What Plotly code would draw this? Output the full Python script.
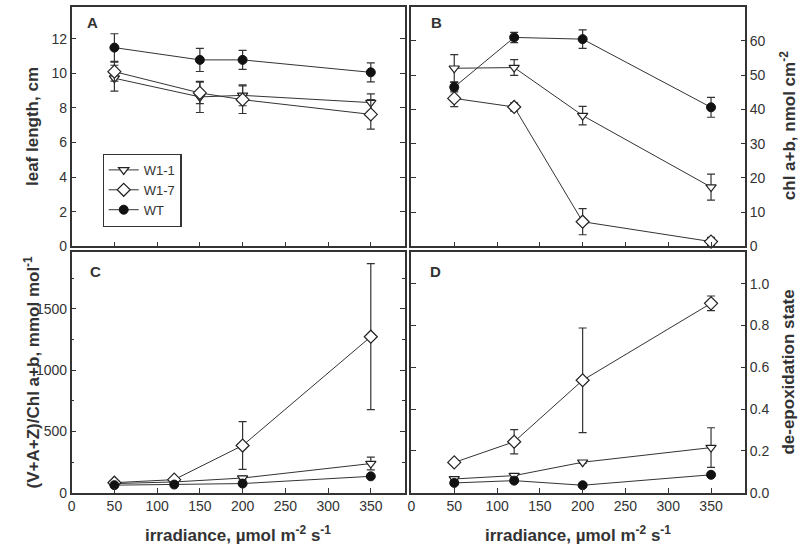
import plotly.graph_objects as go

# ---------------- data ----------------
series_names = ["W1-1", "W1-7", "WT"]
x_A = [50, 150, 200, 350]
x_BCD = [50, 120, 200, 350]

leaf_W11 = [9.72, 8.64, 8.73, 8.31]
leaf_W11_err = [0.75, 0.9, 0.6, 0.5]
leaf_W17 = [10.1, 8.87, 8.48, 7.63]
leaf_W17_err = [0.55, 0.62, 0.8, 0.85]
leaf_WT = [11.49, 10.78, 10.78, 10.06]
leaf_WT_err = [0.8, 0.67, 0.55, 0.55]

chl_W11 = [52.0, 52.2, 38.2, 17.3]
chl_W11_err = [4.0, 2.3, 2.7, 3.8]
chl_W17 = [43.2, 40.7, 7.2, 1.4]
chl_W17_err = [2.4, 1.2, 3.8, 1.2]
chl_WT = [46.5, 61.0, 60.5, 40.6]
chl_WT_err = [1.4, 1.5, 2.7, 2.9]

vaz_W11 = [75, 88, 120, 238]
vaz_W11_err = [5, 8, 15, 52]
vaz_W17 = [82, 107, 385, 1272]
vaz_W17_err = [8, 10, 195, 595]
vaz_WT = [62, 67, 75, 134]
vaz_WT_err = [3, 4, 5, 8]

deps_W11 = [0.066, 0.082, 0.146, 0.216]
deps_W11_err = [0.006, 0.01, 0.006, 0.095]
deps_W17 = [0.145, 0.244, 0.538, 0.906]
deps_W17_err = [0.008, 0.058, 0.25, 0.035]
deps_WT = [0.047, 0.058, 0.036, 0.086]
deps_WT_err = [0.004, 0.005, 0.004, 0.008]

x_ticks = [0, 50, 100, 150, 200, 250, 300, 350]

# ---------------- styling ----------------
INK = "#333333"
FONT = "Liberation Sans, Arial, sans-serif"
marker_styles = {
    "W1-1": dict(symbol="triangle-down", size=9, color="white", line=dict(color="#222", width=1.2)),
    "W1-7": dict(symbol="diamond", size=10, color="white", line=dict(color="#222", width=1.2)),
    "WT": dict(symbol="circle", size=9, color="#111", line=dict(color="#111", width=1)),
}

fig = go.Figure()

panels = [
    ("x", "y", x_A, [(leaf_W11, leaf_W11_err), (leaf_W17, leaf_W17_err), (leaf_WT, leaf_WT_err)], True),
    ("x2", "y2", x_BCD, [(chl_W11, chl_W11_err), (chl_W17, chl_W17_err), (chl_WT, chl_WT_err)], False),
    ("x3", "y3", x_BCD, [(vaz_W11, vaz_W11_err), (vaz_W17, vaz_W17_err), (vaz_WT, vaz_WT_err)], False),
    ("x4", "y4", x_BCD, [(deps_W11, deps_W11_err), (deps_W17, deps_W17_err), (deps_WT, deps_WT_err)], False),
]

for xa, ya, xs, data, show in panels:
    for name, (vals, errs) in zip(series_names, data):
        fig.add_trace(go.Scatter(
            x=xs, y=vals, name=name, xaxis=xa, yaxis=ya,
            mode="lines+markers",
            line=dict(color=INK, width=1),
            marker=marker_styles[name],
            error_y=dict(type="data", array=errs, visible=True, color=INK, thickness=1.2, width=4),
            showlegend=show, cliponaxis=False,
        ))

dom_left = [68 / 800, 403 / 800]
dom_right = [409.5 / 800, 745 / 800]
dom_top = [1 - 250 / 553, 1 - 6.7 / 553]
dom_bot = [1 - 500 / 553, 1 - 256 / 553]

common_x = dict(range=[0, 390], tickvals=x_ticks, ticks="inside", ticklen=5, tickwidth=1.2,
                tickcolor=INK, showline=True, linecolor=INK, linewidth=1.5, mirror=True,
                showgrid=False, zeroline=False, tickfont=dict(size=14, color=INK, family=FONT))
common_y = dict(ticks="inside", ticklen=5, tickwidth=1.2, tickcolor=INK, showline=True,
                linecolor=INK, linewidth=1.5, mirror="ticks", showgrid=False, zeroline=False,
                tickfont=dict(size=14, color=INK, family=FONT))

fig.update_layout(
    width=800, height=553,
    margin=dict(l=0, r=0, t=0, b=0),
    paper_bgcolor="white", plot_bgcolor="white",
    font=dict(family=FONT, color=INK, size=14),
    xaxis=dict(domain=dom_left, anchor="y", showticklabels=False, **common_x),
    xaxis2=dict(domain=dom_right, anchor="y2", showticklabels=False, **common_x),
    xaxis3=dict(domain=dom_left, anchor="y3", showticklabels=True, **common_x),
    xaxis4=dict(domain=dom_right, anchor="y4", showticklabels=True, **common_x),
    yaxis=dict(domain=dom_top, anchor="x", range=[0, 13.86], tickvals=[0, 2, 4, 6, 8, 10, 12], side="left", **common_y),
    yaxis2=dict(domain=dom_top, anchor="x2", range=[0, 70], tickvals=[0, 10, 20, 30, 40, 50, 60, 70], side="right", **common_y),
    yaxis3=dict(domain=dom_bot, anchor="x3", range=[0, 1960], tickvals=[0, 500, 1000, 1500], side="left",
                minor=dict(tickvals=[250, 750, 1250, 1750], ticks="inside", ticklen=3, tickcolor=INK, tickwidth=1), **common_y),
    yaxis4=dict(domain=dom_bot, anchor="x4", range=[0, 1.15], tickvals=[0, 0.2, 0.4, 0.6, 0.8, 1.0], tickformat=".1f", side="right", **common_y),
    legend=dict(x=99 / 800, y=1 - 156 / 553, xanchor="left", yanchor="top",
                bgcolor="white", bordercolor=INK, borderwidth=1.2,
                font=dict(size=13, color=INK, family=FONT), tracegroupgap=0),
)

title_font = dict(size=17, color=INK, family=FONT)
annots = [
    dict(text="<b>leaf length, cm</b>", x=28 / 800, y=1 - 128 / 553, textangle=-90),
    dict(text="<b>chl a+b, nmol cm<sup>-2</sup></b>", x=788 / 800, y=1 - 128 / 553, textangle=-90),
    dict(text="<b>(V+A+Z)/Chl a+b, mmol mol<sup>-1</sup></b>", x=28 / 800, y=1 - 378 / 553, textangle=-90),
    dict(text="<b>de-epoxidation state</b>", x=788 / 800, y=1 - 378 / 553, textangle=-90),
    dict(text="<b>irradiance, µmol m<sup>-2</sup> s<sup>-1</sup></b>", x=235.5 / 800, y=1 - 542 / 553, textangle=0),
    dict(text="<b>irradiance, µmol m<sup>-2</sup> s<sup>-1</sup></b>", x=577 / 800, y=1 - 542 / 553, textangle=0),
]
for a in annots:
    fig.add_annotation(xref="paper", yref="paper", showarrow=False, xanchor="center", yanchor="middle",
                       font=title_font, **a)

letters = [("A", 89, 23), ("B", 435, 23), ("C", 92, 275), ("D", 434, 275)]
for t, px, py in letters:
    fig.add_annotation(text=f"<b>{t}</b>", xref="paper", yref="paper", x=px / 800, y=1 - py / 553,
                       showarrow=False, xanchor="center", yanchor="middle",
                       font=dict(size=15, color=INK, family=FONT))

fig.write_html("out.html", config={"displayModeBar": False},
               post_script="document.body.style.margin='0';document.body.style.overflow='hidden';")
